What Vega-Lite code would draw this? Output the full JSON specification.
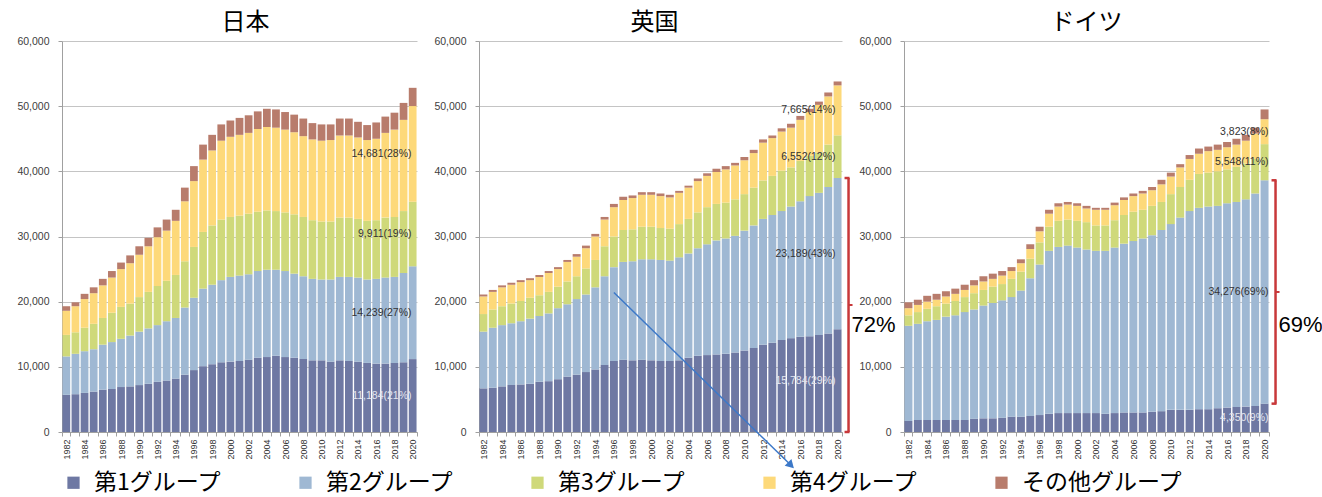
{
"$schema":"https://vega.github.io/schema/vega-lite/v6.json",
"padding":{"left":16,"top":11,"right":0,"bottom":6},
"background":"white",
"spacing":62,
"bounds":"flush",
"config":{"view":{"stroke":null},"font":"Liberation Sans","title":{"fontSize":24,"font":"Noto Sans CJK JP","fontWeight":"normal","color":"#000000","offset":1}},
"datasets":{
"main":[
{"c":"日本","yr":1982,"g1":5700,"g2":5900,"g3":3300,"g4":3700,"o":700},
{"c":"日本","yr":1983,"g1":5800,"g2":6200,"g3":3300,"g4":4000,"o":600},
{"c":"日本","yr":1984,"g1":6000,"g2":6400,"g3":3600,"g4":4400,"o":800},
{"c":"日本","yr":1985,"g1":6200,"g2":6500,"g3":3900,"g4":4700,"o":900},
{"c":"日本","yr":1986,"g1":6500,"g2":6900,"g3":4100,"g4":5000,"o":1000},
{"c":"日本","yr":1987,"g1":6600,"g2":7200,"g3":4500,"g4":5400,"o":1000},
{"c":"日本","yr":1988,"g1":6900,"g2":7400,"g3":4900,"g4":5800,"o":1000},
{"c":"日本","yr":1989,"g1":7000,"g2":7800,"g3":4900,"g4":6200,"o":1200},
{"c":"日本","yr":1990,"g1":7200,"g2":8200,"g3":5300,"g4":6500,"o":1300},
{"c":"日本","yr":1991,"g1":7400,"g2":8500,"g3":5600,"g4":7000,"o":1300},
{"c":"日本","yr":1992,"g1":7700,"g2":8700,"g3":6000,"g4":7500,"o":1500},
{"c":"日本","yr":1993,"g1":7900,"g2":9100,"g3":6200,"g4":7700,"o":1700},
{"c":"日本","yr":1994,"g1":8200,"g2":9300,"g3":6600,"g4":8300,"o":1700},
{"c":"日本","yr":1995,"g1":8800,"g2":10300,"g3":7100,"g4":9200,"o":2100},
{"c":"日本","yr":1996,"g1":9500,"g2":11100,"g3":7800,"g4":10100,"o":2300},
{"c":"日本","yr":1997,"g1":10100,"g2":11900,"g3":8700,"g4":11100,"o":2300},
{"c":"日本","yr":1998,"g1":10400,"g2":12200,"g3":9100,"g4":11500,"o":2400},
{"c":"日本","yr":1999,"g1":10700,"g2":12600,"g3":9300,"g4":12100,"o":2500},
{"c":"日本","yr":2000,"g1":10800,"g2":13000,"g3":9200,"g4":12300,"o":2500},
{"c":"日本","yr":2001,"g1":10900,"g2":13100,"g3":9200,"g4":12400,"o":2600},
{"c":"日本","yr":2002,"g1":11100,"g2":13100,"g3":9300,"g4":12400,"o":2700},
{"c":"日本","yr":2003,"g1":11400,"g2":13300,"g3":9100,"g4":12700,"o":2700},
{"c":"日本","yr":2004,"g1":11500,"g2":13400,"g3":9100,"g4":12800,"o":2800},
{"c":"日本","yr":2005,"g1":11700,"g2":13200,"g3":9000,"g4":12800,"o":2800},
{"c":"日本","yr":2006,"g1":11500,"g2":13200,"g3":9000,"g4":12700,"o":2700},
{"c":"日本","yr":2007,"g1":11400,"g2":12900,"g3":9100,"g4":12600,"o":2700},
{"c":"日本","yr":2008,"g1":11200,"g2":12700,"g3":9100,"g4":12400,"o":2700},
{"c":"日本","yr":2009,"g1":11000,"g2":12500,"g3":9000,"g4":12400,"o":2500},
{"c":"日本","yr":2010,"g1":11000,"g2":12400,"g3":8900,"g4":12400,"o":2500},
{"c":"日本","yr":2011,"g1":10800,"g2":12600,"g3":8900,"g4":12500,"o":2400},
{"c":"日本","yr":2012,"g1":11000,"g2":12800,"g3":9100,"g4":12600,"o":2600},
{"c":"日本","yr":2013,"g1":10900,"g2":12900,"g3":9100,"g4":12600,"o":2600},
{"c":"日本","yr":2014,"g1":10800,"g2":12900,"g3":9000,"g4":12500,"o":2400},
{"c":"日本","yr":2015,"g1":10600,"g2":12800,"g3":9000,"g4":12400,"o":2300},
{"c":"日本","yr":2016,"g1":10500,"g2":13000,"g3":9000,"g4":12500,"o":2500},
{"c":"日本","yr":2017,"g1":10500,"g2":13200,"g3":9200,"g4":13000,"o":2500},
{"c":"日本","yr":2018,"g1":10600,"g2":13200,"g3":9200,"g4":13400,"o":2600},
{"c":"日本","yr":2019,"g1":10700,"g2":13700,"g3":9500,"g4":14000,"o":2600},
{"c":"日本","yr":2020,"g1":11184,"g2":14239,"g3":9911,"g4":14681,"o":2800},
{"c":"英国","yr":1982,"g1":6700,"g2":8700,"g3":2700,"g4":2700,"o":300},
{"c":"英国","yr":1983,"g1":6800,"g2":9200,"g3":2800,"g4":2700,"o":300},
{"c":"英国","yr":1984,"g1":7000,"g2":9400,"g3":2900,"g4":2900,"o":300},
{"c":"英国","yr":1985,"g1":7200,"g2":9500,"g3":3000,"g4":2900,"o":300},
{"c":"英国","yr":1986,"g1":7300,"g2":9700,"g3":3100,"g4":2900,"o":300},
{"c":"英国","yr":1987,"g1":7400,"g2":10000,"g3":3200,"g4":2700,"o":300},
{"c":"英国","yr":1988,"g1":7700,"g2":10100,"g3":3200,"g4":2800,"o":300},
{"c":"英国","yr":1989,"g1":7800,"g2":10400,"g3":3300,"g4":2900,"o":300},
{"c":"英国","yr":1990,"g1":8100,"g2":10900,"g3":3300,"g4":2700,"o":300},
{"c":"英国","yr":1991,"g1":8500,"g2":11100,"g3":3500,"g4":3000,"o":300},
{"c":"英国","yr":1992,"g1":8800,"g2":11600,"g3":3500,"g4":3000,"o":400},
{"c":"英国","yr":1993,"g1":9200,"g2":11900,"g3":4000,"g4":3100,"o":400},
{"c":"英国","yr":1994,"g1":9600,"g2":12600,"g3":4200,"g4":3600,"o":400},
{"c":"英国","yr":1995,"g1":10300,"g2":13600,"g3":4600,"g4":4100,"o":400},
{"c":"英国","yr":1996,"g1":10900,"g2":14400,"g3":4700,"g4":4500,"o":500},
{"c":"英国","yr":1997,"g1":11100,"g2":15000,"g3":4900,"g4":4600,"o":500},
{"c":"英国","yr":1998,"g1":11000,"g2":15200,"g3":4900,"g4":4800,"o":400},
{"c":"英国","yr":1999,"g1":11100,"g2":15400,"g3":5000,"g4":4900,"o":400},
{"c":"英国","yr":2000,"g1":11000,"g2":15500,"g3":5000,"g4":4900,"o":400},
{"c":"英国","yr":2001,"g1":10900,"g2":15500,"g3":4900,"g4":4900,"o":400},
{"c":"英国","yr":2002,"g1":10900,"g2":15400,"g3":4900,"g4":4800,"o":400},
{"c":"英国","yr":2003,"g1":11000,"g2":15800,"g3":5100,"g4":4800,"o":300},
{"c":"英国","yr":2004,"g1":11400,"g2":16000,"g3":5300,"g4":4800,"o":300},
{"c":"英国","yr":2005,"g1":11700,"g2":16500,"g3":5500,"g4":4800,"o":400},
{"c":"英国","yr":2006,"g1":11800,"g2":17000,"g3":5700,"g4":4800,"o":400},
{"c":"英国","yr":2007,"g1":11900,"g2":17500,"g3":5600,"g4":4900,"o":500},
{"c":"英国","yr":2008,"g1":12000,"g2":17700,"g3":5500,"g4":5100,"o":500},
{"c":"英国","yr":2009,"g1":12200,"g2":17900,"g3":5600,"g4":5200,"o":400},
{"c":"英国","yr":2010,"g1":12500,"g2":18400,"g3":5600,"g4":5200,"o":500},
{"c":"英国","yr":2011,"g1":12900,"g2":18800,"g3":5800,"g4":5300,"o":500},
{"c":"英国","yr":2012,"g1":13400,"g2":19300,"g3":5900,"g4":5800,"o":500},
{"c":"英国","yr":2013,"g1":13700,"g2":19600,"g3":6000,"g4":5800,"o":400},
{"c":"英国","yr":2014,"g1":14100,"g2":19800,"g3":6200,"g4":6000,"o":500},
{"c":"英国","yr":2015,"g1":14400,"g2":20200,"g3":6000,"g4":6100,"o":600},
{"c":"英国","yr":2016,"g1":14600,"g2":20800,"g3":6200,"g4":6300,"o":600},
{"c":"英国","yr":2017,"g1":14700,"g2":21500,"g3":6200,"g4":6700,"o":500},
{"c":"英国","yr":2018,"g1":14900,"g2":21800,"g3":6200,"g4":7300,"o":500},
{"c":"英国","yr":2019,"g1":15100,"g2":22500,"g3":6500,"g4":7400,"o":600},
{"c":"英国","yr":2020,"g1":15784,"g2":23189,"g3":6552,"g4":7665,"o":600},
{"c":"ドイツ","yr":1982,"g1":1700,"g2":14600,"g3":1600,"g4":1100,"o":900},
{"c":"ドイツ","yr":1983,"g1":1850,"g2":14750,"g3":1800,"g4":1100,"o":800},
{"c":"ドイツ","yr":1984,"g1":1850,"g2":15150,"g3":1900,"g4":1100,"o":900},
{"c":"ドイツ","yr":1985,"g1":1850,"g2":15350,"g3":2100,"g4":1000,"o":900},
{"c":"ドイツ","yr":1986,"g1":1850,"g2":15850,"g3":2000,"g4":1100,"o":800},
{"c":"ドイツ","yr":1987,"g1":1850,"g2":16050,"g3":2200,"g4":1100,"o":800},
{"c":"ドイツ","yr":1988,"g1":1850,"g2":16550,"g3":2300,"g4":1100,"o":800},
{"c":"ドイツ","yr":1989,"g1":2050,"g2":16750,"g3":2500,"g4":1200,"o":800},
{"c":"ドイツ","yr":1990,"g1":2100,"g2":17300,"g3":2400,"g4":1300,"o":800},
{"c":"ドイツ","yr":1991,"g1":2100,"g2":17700,"g3":2500,"g4":1200,"o":800},
{"c":"ドイツ","yr":1992,"g1":2200,"g2":18000,"g3":2500,"g4":1300,"o":700},
{"c":"ドイツ","yr":1993,"g1":2350,"g2":18350,"g3":2800,"g4":1200,"o":600},
{"c":"ドイツ","yr":1994,"g1":2350,"g2":19350,"g3":2900,"g4":1300,"o":600},
{"c":"ドイツ","yr":1995,"g1":2450,"g2":21150,"g3":3000,"g4":1500,"o":700},
{"c":"ドイツ","yr":1996,"g1":2600,"g2":23100,"g3":3400,"g4":1700,"o":700},
{"c":"ドイツ","yr":1997,"g1":2800,"g2":25000,"g3":3700,"g4":2000,"o":600},
{"c":"ドイツ","yr":1998,"g1":2900,"g2":25500,"g3":4000,"g4":2200,"o":500},
{"c":"ドイツ","yr":1999,"g1":2900,"g2":25700,"g3":4000,"g4":2300,"o":400},
{"c":"ドイツ","yr":2000,"g1":2900,"g2":25400,"g3":4100,"g4":2300,"o":400},
{"c":"ドイツ","yr":2001,"g1":2900,"g2":25100,"g3":4200,"g4":2100,"o":400},
{"c":"ドイツ","yr":2002,"g1":2900,"g2":24900,"g3":3900,"g4":2400,"o":300},
{"c":"ドイツ","yr":2003,"g1":2800,"g2":25000,"g3":3900,"g4":2400,"o":300},
{"c":"ドイツ","yr":2004,"g1":2900,"g2":25400,"g3":4200,"g4":2300,"o":400},
{"c":"ドイツ","yr":2005,"g1":3000,"g2":25900,"g3":4400,"g4":2300,"o":400},
{"c":"ドイツ","yr":2006,"g1":3000,"g2":26300,"g3":4500,"g4":2400,"o":400},
{"c":"ドイツ","yr":2007,"g1":3000,"g2":26700,"g3":4400,"g4":2500,"o":400},
{"c":"ドイツ","yr":2008,"g1":3100,"g2":27100,"g3":4500,"g4":2400,"o":500},
{"c":"ドイツ","yr":2009,"g1":3200,"g2":27800,"g3":4300,"g4":2700,"o":700},
{"c":"ドイツ","yr":2010,"g1":3400,"g2":28500,"g3":4600,"g4":2700,"o":600},
{"c":"ドイツ","yr":2011,"g1":3400,"g2":29500,"g3":4700,"g4":3000,"o":500},
{"c":"ドイツ","yr":2012,"g1":3400,"g2":30500,"g3":4800,"g4":3200,"o":600},
{"c":"ドイツ","yr":2013,"g1":3500,"g2":30900,"g3":5200,"g4":3100,"o":800},
{"c":"ドイツ","yr":2014,"g1":3500,"g2":31100,"g3":5200,"g4":3300,"o":700},
{"c":"ドイツ","yr":2015,"g1":3650,"g2":31050,"g3":5300,"g4":3300,"o":800},
{"c":"ドイツ","yr":2016,"g1":3750,"g2":31350,"g3":5200,"g4":3400,"o":800},
{"c":"ドイツ","yr":2017,"g1":3850,"g2":31450,"g3":5400,"g4":3400,"o":900},
{"c":"ドイツ","yr":2018,"g1":3900,"g2":31800,"g3":5500,"g4":3500,"o":900},
{"c":"ドイツ","yr":2019,"g1":4000,"g2":32600,"g3":5300,"g4":3900,"o":900},
{"c":"ドイツ","yr":2020,"g1":4350,"g2":34276,"g3":5548,"g4":3823,"o":1500}
],
"labels":[
{"c":"日本","yr":2020,"k":"g1","v":11184,"t":"11,184(21%)"},
{"c":"日本","yr":2020,"k":"g2","v":14239,"t":"14,239(27%)"},
{"c":"日本","yr":2020,"k":"g3","v":9911,"t":"9,911(19%)"},
{"c":"日本","yr":2020,"k":"g4","v":14681,"t":"14,681(28%)"},
{"c":"英国","yr":2020,"k":"g1","v":15784,"t":"15,784(29%)"},
{"c":"英国","yr":2020,"k":"g2","v":23189,"t":"23,189(43%)"},
{"c":"英国","yr":2020,"k":"g3","v":6552,"t":"6,552(12%)"},
{"c":"英国","yr":2020,"k":"g4","v":7665,"t":"7,665(14%)"},
{"c":"ドイツ","yr":2020,"k":"g1","v":4350,"t":"4,350(9%)"},
{"c":"ドイツ","yr":2020,"k":"g2","v":34276,"t":"34,276(69%)"},
{"c":"ドイツ","yr":2020,"k":"g3","v":5548,"t":"5,548(11%)"},
{"c":"ドイツ","yr":2020,"k":"g4","v":3823,"t":"3,823(8%)"}
],
"br":[
{"c":"英国","yr":2020,"lo":0,"hi":38973,"mid":19487,"t":"72%"},
{"c":"ドイツ","yr":2020,"lo":4350,"hi":38626,"mid":21488,"t":"69%"}
],
"arrow":[
{"yr":1996,"v":21400},
{"yr":2015,"v":-5100}
]
},
"hconcat":[
{
"width":355,"height":391,
"title":{"text":"日本","dx":6},
"layer":[
{"data":{"name":"main"},
"transform":[{"filter":"datum.c === '日本'"},{"fold":["g1","g2","g3","g4","o"],"as":["k","v"]}],
"mark":{"type":"bar"},
"encoding":{
"x":{"field":"yr","type":"ordinal","title":null,"scale":{"paddingInner":0.15,"paddingOuter":0.05},"axis":{"labelAngle":-90,"labelFontSize":9,"labelColor":"#333333","tickSize":4,"tickBand":"extent","tickColor":"#a0a0a0","domainColor":"#a0a0a0","labelPadding":3,"labelOverlap":false,"labelExpr":"datum.value % 2 === 0 ? datum.label : ''"}},
"y":{"field":"v","type":"quantitative","stack":"zero","title":null,"scale":{"domain":[0,60000]},"axis":{"values":[0,10000,20000,30000,40000,50000,60000],"format":",.0f","labelFontSize":10.5,"labelColor":"#404040","tickSize":4,"tickColor":"#a0a0a0","labelPadding":9,"domainColor":"#a0a0a0","gridColor":"#c4c4c4"}},
"color":{"field":"k","type":"nominal","scale":{"domain":["g1","g2","g3","g4","o"],"range":["#6e78a3","#9fb8d3","#cfd97a","#fdd97a","#b87c6c"]},"legend":{"title":null,"orient":"bottom","direction":"horizontal","symbolType":"square","symbolSize":150,"symbolStrokeWidth":0,"labelFontSize":23,"labelFont":"Noto Sans CJK JP","labelColor":"#000000","labelOffset":9,"columnPadding":72,"offset":2,"labelLimit":300,"labelExpr":"datum.label === 'g1' ? '第1グループ' : datum.label === 'g2' ? '第2グループ' : datum.label === 'g3' ? '第3グループ' : datum.label === 'g4' ? '第4グループ' : 'その他グループ'"}},
"order":{"field":"k","type":"nominal"}
}},
{"data":{"name":"labels"},
"transform":[{"filter":"datum.c === '日本'"}],
"mark":{"type":"text","align":"right","baseline":"middle","dx":-5,"fontSize":10.5},
"encoding":{
"x":{"field":"yr","type":"ordinal","bandPosition":1},
"y":{"field":"v","type":"quantitative","stack":"zero","bandPosition":0.5},
"detail":{"field":"k"},
"order":{"field":"k","type":"nominal"},
"text":{"field":"t"},
"color":{"condition":{"test":"datum.k === 'g1'","value":"#e4e6ef"},"value":"#333333"}
}}
]
},
{
"width":363,"height":391,
"title":{"text":"英国","dx":-6},
"layer":[
{"data":{"name":"main"},
"transform":[{"filter":"datum.c === '英国'"},{"fold":["g1","g2","g3","g4","o"],"as":["k","v"]}],
"mark":{"type":"bar"},
"encoding":{
"x":{"field":"yr","type":"ordinal","title":null,"scale":{"paddingInner":0.15,"paddingOuter":0.05},"axis":{"labelAngle":-90,"labelFontSize":9,"labelColor":"#333333","tickSize":4,"tickBand":"extent","tickColor":"#a0a0a0","domainColor":"#a0a0a0","labelPadding":3,"labelOverlap":false,"labelExpr":"datum.value % 2 === 0 ? datum.label : ''"}},
"y":{"field":"v","type":"quantitative","stack":"zero","title":null,"scale":{"domain":[0,60000]},"axis":{"values":[0,10000,20000,30000,40000,50000,60000],"format":",.0f","labelFontSize":10.5,"labelColor":"#404040","tickSize":4,"tickColor":"#a0a0a0","labelPadding":9,"domainColor":"#a0a0a0","gridColor":"#c4c4c4"}},
"color":{"field":"k","type":"nominal","scale":{"domain":["g1","g2","g3","g4","o"],"range":["#6e78a3","#9fb8d3","#cfd97a","#fdd97a","#b87c6c"]},"legend":{"title":null,"orient":"bottom","direction":"horizontal","symbolType":"square","symbolSize":150,"symbolStrokeWidth":0,"labelFontSize":23,"labelFont":"Noto Sans CJK JP","labelColor":"#000000","labelOffset":9,"columnPadding":72,"offset":2,"labelLimit":300,"labelExpr":"datum.label === 'g1' ? '第1グループ' : datum.label === 'g2' ? '第2グループ' : datum.label === 'g3' ? '第3グループ' : datum.label === 'g4' ? '第4グループ' : 'その他グループ'"}},
"order":{"field":"k","type":"nominal"}
}},
{"data":{"name":"labels"},
"transform":[{"filter":"datum.c === '英国'"}],
"mark":{"type":"text","align":"right","baseline":"middle","dx":-6,"fontSize":10.5},
"encoding":{
"x":{"field":"yr","type":"ordinal","bandPosition":1},
"y":{"field":"v","type":"quantitative","stack":"zero","bandPosition":0.5},
"detail":{"field":"k"},
"order":{"field":"k","type":"nominal"},
"text":{"field":"t"},
"color":{"condition":{"test":"datum.k === 'g1'","value":"#e4e6ef"},"value":"#333333"}
}},
{"data":{"name":"br"},
"transform":[{"filter":"datum.c === '英国'"}],
"layer":[
{"mark":{"type":"rule","color":"#c8383a","strokeWidth":2.5,"xOffset":7},
"encoding":{"x":{"field":"yr","type":"ordinal","bandPosition":1},"y":{"field":"lo","type":"quantitative"},"y2":{"field":"hi"}}},
{"mark":{"type":"rule","color":"#c8383a","strokeWidth":2.5,"xOffset":3,"x2Offset":8},
"encoding":{"x":{"field":"yr","type":"ordinal","bandPosition":1},"x2":{"field":"yr","bandPosition":1},"y":{"field":"hi","type":"quantitative"}}},
{"mark":{"type":"rule","color":"#c8383a","strokeWidth":2.5,"xOffset":3,"x2Offset":8},
"encoding":{"x":{"field":"yr","type":"ordinal","bandPosition":1},"x2":{"field":"yr","bandPosition":1},"y":{"field":"lo","type":"quantitative"}}},
{"mark":{"type":"rule","color":"#c8383a","strokeWidth":2,"xOffset":7,"x2Offset":11},
"encoding":{"x":{"field":"yr","type":"ordinal","bandPosition":1},"x2":{"field":"yr","bandPosition":1},"y":{"field":"mid","type":"quantitative"}}},
{"mark":{"type":"text","align":"left","baseline":"middle","dx":10,"dy":20,"fontSize":22,"font":"Liberation Sans","color":"#000000"},
"encoding":{"x":{"field":"yr","type":"ordinal","bandPosition":1},"y":{"field":"mid","type":"quantitative"},"text":{"field":"t"}}}
]},
{"data":{"name":"arrow"},
"layer":[
{"mark":{"type":"line","color":"#3c78c8","strokeWidth":1.5},
"encoding":{"x":{"field":"yr","type":"ordinal"},"y":{"field":"v","type":"quantitative"}}},
{"transform":[{"filter":"datum.yr === 2015"}],
"mark":{"type":"point","shape":"triangle-up","angle":135,"filled":true,"size":90,"color":"#3c78c8","opacity":1},
"encoding":{"x":{"field":"yr","type":"ordinal"},"y":{"field":"v","type":"quantitative"}}}
]}
]
},
{
"width":365,"height":391,
"title":{"text":"ドイツ","dx":0},
"layer":[
{"data":{"name":"main"},
"transform":[{"filter":"datum.c === 'ドイツ'"},{"fold":["g1","g2","g3","g4","o"],"as":["k","v"]}],
"mark":{"type":"bar"},
"encoding":{
"x":{"field":"yr","type":"ordinal","title":null,"scale":{"paddingInner":0.15,"paddingOuter":0.05},"axis":{"labelAngle":-90,"labelFontSize":9,"labelColor":"#333333","tickSize":4,"tickBand":"extent","tickColor":"#a0a0a0","domainColor":"#a0a0a0","labelPadding":3,"labelOverlap":false,"labelExpr":"datum.value % 2 === 0 ? datum.label : ''"}},
"y":{"field":"v","type":"quantitative","stack":"zero","title":null,"scale":{"domain":[0,60000]},"axis":{"values":[0,10000,20000,30000,40000,50000,60000],"format":",.0f","labelFontSize":10.5,"labelColor":"#404040","tickSize":4,"tickColor":"#a0a0a0","labelPadding":9,"domainColor":"#a0a0a0","gridColor":"#c4c4c4"}},
"color":{"field":"k","type":"nominal","scale":{"domain":["g1","g2","g3","g4","o"],"range":["#6e78a3","#9fb8d3","#cfd97a","#fdd97a","#b87c6c"]},"legend":{"title":null,"orient":"bottom","direction":"horizontal","symbolType":"square","symbolSize":150,"symbolStrokeWidth":0,"labelFontSize":23,"labelFont":"Noto Sans CJK JP","labelColor":"#000000","labelOffset":9,"columnPadding":72,"offset":2,"labelLimit":300,"labelExpr":"datum.label === 'g1' ? '第1グループ' : datum.label === 'g2' ? '第2グループ' : datum.label === 'g3' ? '第3グループ' : datum.label === 'g4' ? '第4グループ' : 'その他グループ'"}},
"order":{"field":"k","type":"nominal"}
}},
{"data":{"name":"labels"},
"transform":[{"filter":"datum.c === 'ドイツ'"}],
"mark":{"type":"text","align":"right","baseline":"middle","dx":0,"fontSize":10.5},
"encoding":{
"x":{"field":"yr","type":"ordinal","bandPosition":1},
"y":{"field":"v","type":"quantitative","stack":"zero","bandPosition":0.5},
"detail":{"field":"k"},
"order":{"field":"k","type":"nominal"},
"text":{"field":"t"},
"color":{"condition":{"test":"datum.k === 'g1'","value":"#e4e6ef"},"value":"#333333"}
}},
{"data":{"name":"br"},
"transform":[{"filter":"datum.c === 'ドイツ'"}],
"layer":[
{"mark":{"type":"rule","color":"#c8383a","strokeWidth":2.5,"xOffset":7},
"encoding":{"x":{"field":"yr","type":"ordinal","bandPosition":1},"y":{"field":"lo","type":"quantitative"},"y2":{"field":"hi"}}},
{"mark":{"type":"rule","color":"#c8383a","strokeWidth":2.5,"xOffset":3,"x2Offset":8},
"encoding":{"x":{"field":"yr","type":"ordinal","bandPosition":1},"x2":{"field":"yr","bandPosition":1},"y":{"field":"hi","type":"quantitative"}}},
{"mark":{"type":"rule","color":"#c8383a","strokeWidth":2.5,"xOffset":3,"x2Offset":8},
"encoding":{"x":{"field":"yr","type":"ordinal","bandPosition":1},"x2":{"field":"yr","bandPosition":1},"y":{"field":"lo","type":"quantitative"}}},
{"mark":{"type":"rule","color":"#c8383a","strokeWidth":2,"xOffset":7,"x2Offset":11},
"encoding":{"x":{"field":"yr","type":"ordinal","bandPosition":1},"x2":{"field":"yr","bandPosition":1},"y":{"field":"mid","type":"quantitative"}}},
{"mark":{"type":"text","align":"left","baseline":"middle","dx":10,"dy":33,"fontSize":22,"font":"Liberation Sans","color":"#000000"},
"encoding":{"x":{"field":"yr","type":"ordinal","bandPosition":1},"y":{"field":"mid","type":"quantitative"},"text":{"field":"t"}}}
]}
]
}
]
}
